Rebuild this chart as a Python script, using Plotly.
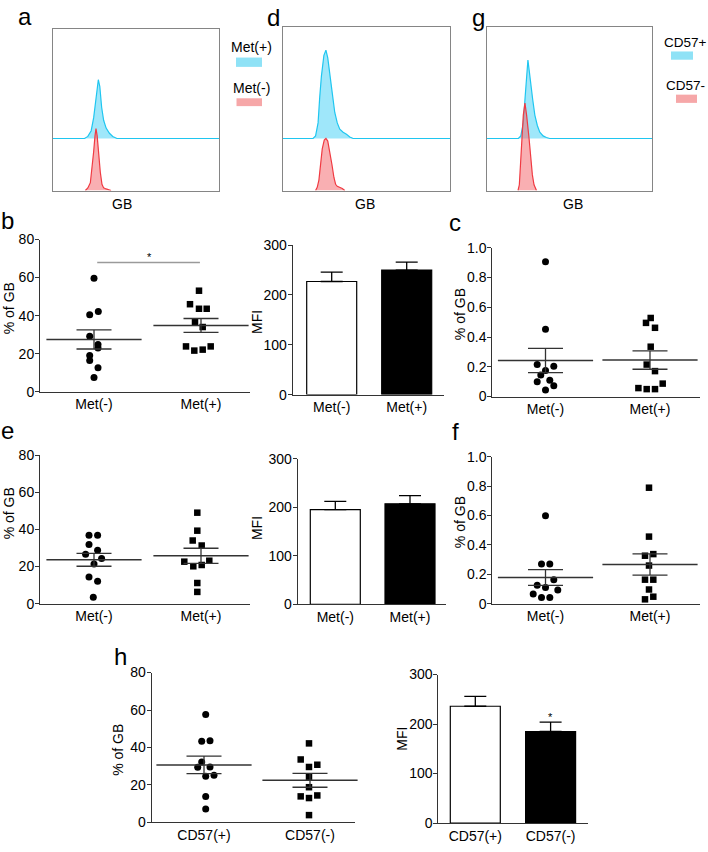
import numpy as np
import plotly.graph_objects as go

W, H = 708, 852

# ---------------- DATA ----------------
# Flow histograms: x = position in % of plot width, h = relative height
hist_a_pos_x = [19, 21, 23, 24.5, 25.5, 26.5, 27.3, 28.2, 29.3, 30.5, 32, 34, 36, 38.5]
hist_a_pos_h = [0, 0.04, 0.15, 0.4, 0.7, 1.0, 1.13, 1.0, 0.6, 0.35, 0.2, 0.1, 0.04, 0]
hist_a_neg_x = [19.5, 21, 22.5, 23.5, 24.5, 25.3, 25.9, 26.6, 27.5, 28.5, 29.5, 30.5, 32, 34, 35]
hist_a_neg_h = [0, 0.05, 0.15, 0.4, 0.75, 1.05, 1.19, 1.05, 0.7, 0.35, 0.12, 0.05, 0.03, 0.01, 0]

hist_d_pos_x = [18, 19.5, 21, 22, 23, 24.5, 25.7, 26.8, 28, 29.6, 31, 32.5, 34, 36, 38, 40, 42]
hist_d_pos_h = [0, 0.05, 0.3, 0.8, 1.2, 1.6, 1.70, 1.55, 1.2, 0.85, 0.5, 0.3, 0.18, 0.12, 0.08, 0.03, 0]
hist_d_neg_x = [19.5, 20.5, 21.5, 22.5, 23.5, 24.7, 25.7, 26.8, 28, 29.3, 30.5, 31.5, 32.5, 34, 35.5, 37]
hist_d_neg_h = [0, 0.06, 0.2, 0.5, 0.8, 0.97, 1.0, 0.95, 0.75, 0.5, 0.25, 0.12, 0.08, 0.06, 0.04, 0]

hist_g_pos_x = [19, 20.5, 22, 23, 24, 24.8, 25.6, 26.7, 27.7, 29, 30.5, 32, 34, 36, 38]
hist_g_pos_h = [0, 0.05, 0.3, 0.75, 1.25, 1.51, 1.3, 0.95, 0.75, 0.45, 0.25, 0.12, 0.05, 0.02, 0]
hist_g_neg_x = [18.8, 19.6, 20.3, 21, 22, 23, 24, 25.5, 26.5, 27.5, 28.5, 30]
hist_g_neg_h = [0, 0.11, 0.5, 1.0, 1.45, 1.68, 1.45, 1.0, 0.6, 0.3, 0.11, 0]

met_labels = ["Met(-)", "Met(+)"]
cd57_labels = ["CD57(+)", "CD57(-)"]

b_met_neg = [59.6, 40.5, 42.2, 29.1, 24.8, 22.9, 19.0, 16.4, 12.6, 7.4]
b_met_pos = [53.1, 46.0, 43.6, 43.6, 36.7, 34.0, 23.8, 21.6, 22.1, 23.8]
b_mfi = [227, 250]
b_mfi_sem = [19, 16]
b_sig_y = 68

c_met_neg = [0.905, 0.452, 0.215, 0.204, 0.175, 0.145, 0.100, 0.110, 0.072, 0.044]
c_met_pos = [0.528, 0.495, 0.462, 0.335, 0.215, 0.171, 0.087, 0.057, 0.050, 0.050]

e_met_neg = [36.8, 36.8, 31.9, 28.7, 26.6, 24.3, 21.3, 14.3, 12.0, 3.4]
e_met_pos = [49.0, 39.3, 34.0, 31.3, 22.6, 23.1, 20.1, 20.8, 11.1, 6.3]
e_mfi = [195, 207]
e_mfi_sem = [17, 17]

f_met_neg = [0.598, 0.27, 0.27, 0.125, 0.163, 0.109, 0.092, 0.065, 0.042, 0.042]
f_met_pos = [0.789, 0.456, 0.326, 0.337, 0.259, 0.163, 0.163, 0.096, 0.047, 0.029]

h_cd57_pos = [57.6, 43.3, 43.6, 32.3, 29.4, 29.6, 24.7, 25.2, 13.9, 7.2]
h_cd57_neg = [42.2, 33.6, 29.6, 30.8, 24.4, 18.8, 13.9, 13.0, 14.4, 3.9]
h_mfi = [236, 185]
h_mfi_sem = [20, 19]

pct_ticks = [0, 20, 40, 60, 80]
frac_ticks = [0, 0.2, 0.4, 0.6, 0.8, 1.0]
frac_ticktext = ["0", "0.2", "0.4", "0.6", "0.8", "1.0"]
mfi_ticks = [0, 100, 200, 300]

# ---------------- LAYOUT HELPERS (pixel geometry) ----------------
# horizontal jitter of dots, in pixels
b_neg_jit = [0, -4.3, 4.3, -4.3, 4, 4, -4.3, -4.3, 4, 0]
b_pos_jit = [-2, -11, -2, 5.7, -6, 1.7, -15, -6.7, 1.7, 9.7]
c_neg_jit = [0, 0, -8.3, 8.3, 0, -4.7, -8.3, 4.3, 8.3, 0]
c_pos_jit = [0.7, -4, 5, 0.7, -3.3, 5, 12.7, -11.6, -3.3, 5]
e_neg_jit = [-5, 3.6, -5, 3.6, -8.4, 7.6, 0, -5, 3.6, -0.7]
e_pos_jit = [-3.7, -3.7, -8.3, 0.7, -16.7, 8.3, -7.7, 0.7, -3.7, -3.7]
f_neg_jit = [0, -4, 4.3, -8.3, 8.3, 0, 12.3, -12.3, -4, 4.3]
f_pos_jit = [-1, -1, -5, 3.3, -1, -5, 3.3, -1, 3.3, -5]
h_pos_jit = [1.7, -2.3, 6, -2.3, -6.3, 6, 1.7, 10, 1.7, 1.7]
h_neg_jit = [-1, -9.3, -1, 7.3, -1, -1, -9.3, -1, 7.3, -1]

FONT = "Liberation Sans, Arial, Helvetica, sans-serif"
AX = "#333333"
CY_LINE = "#1fc6f0"
CY_FILL = "rgba(80,212,245,0.55)"
RD_LINE = "#f03a42"
RD_FILL = "rgba(244,110,115,0.55)"

fig = go.Figure()
layout = dict(width=W, height=H, margin=dict(l=0, r=0, t=0, b=0, pad=0), autosize=False,
              paper_bgcolor="white", plot_bgcolor="rgba(0,0,0,0)",
              showlegend=False, font=dict(family=FONT, size=14, color="black"))
annotations = []
shapes = []


def fx(px):
    return px / W


def fy(py):
    return 1 - py / H


def ids(n):
    s = "" if n == 1 else str(n)
    return "x" + s, "y" + s, "xaxis" + s, "yaxis" + s


def mean_sem(v):
    a = np.asarray(v, float)
    return a.mean(), a.std(ddof=1) / np.sqrt(len(a))


def hist_panel(n, x0, x1, ytop, ybot, ybase, pos_x, pos_h, neg_x, neg_h):
    xa, ya, xk, yk = ids(n)
    yr = (ybot - ytop) / (ybot - ybase)
    layout[xk] = dict(domain=[fx(x0), fx(x1)], range=[0, 100], anchor=ya,
                      showline=True, mirror=True, linecolor="#858585", linewidth=1,
                      showticklabels=False, ticks="", showgrid=False, zeroline=False)
    layout[yk] = dict(domain=[fy(ybot), fy(ytop)], range=[0, yr], anchor=xa,
                      showline=True, mirror=True, linecolor="#858585", linewidth=1,
                      showticklabels=False, ticks="", showgrid=False, zeroline=False)
    fig.add_trace(go.Scatter(x=[0] + list(pos_x) + [100], y=[1] + [1 + h for h in pos_h] + [1],
                             mode="lines", fill="toself", fillcolor=CY_FILL,
                             line=dict(color=CY_LINE, width=1.2), xaxis=xa, yaxis=ya))
    fig.add_trace(go.Scatter(x=list(neg_x), y=list(neg_h),
                             mode="lines", fill="toself", fillcolor=RD_FILL,
                             line=dict(color=RD_LINE, width=1.2), xaxis=xa, yaxis=ya))


def base_axes(n, x0, x1, ytop, ybot, c0, u, labels, yrange, ytv, ytt):
    xa, ya, xk, yk = ids(n)
    layout[xk] = dict(domain=[fx(x0), fx(x1)], range=[(x0 - c0) / u, (x1 - c0) / u], anchor=ya,
                      showline=True, linecolor=AX, linewidth=1, ticks="",
                      tickvals=[0, 1], ticktext=labels, tickfont=dict(size=14),
                      showgrid=False, zeroline=False)
    layout[yk] = dict(domain=[fy(ybot), fy(ytop)], range=yrange, anchor=xa,
                      showline=True, linecolor=AX, linewidth=1, ticks="outside",
                      ticklen=4, tickwidth=1, tickcolor=AX, tickvals=ytv, ticktext=ytt,
                      ticklabelstandoff=-2,
                      tickfont=dict(size=14), showgrid=False, zeroline=False)
    return xa, ya


def dot_panel(n, x0, x1, ytop, ybot, c0, u, labels, groups, yrange, ytv, ytt):
    xa, ya = base_axes(n, x0, x1, ytop, ybot, c0, u, labels, yrange, ytv, ytt)
    for k, (vals, jit, sym, sz) in enumerate(groups):
        fig.add_trace(go.Scatter(x=[k + j / u for j in jit], y=vals, mode="markers",
                                 marker=dict(symbol=sym, size=sz, color="black"),
                                 xaxis=xa, yaxis=ya, cliponaxis=False))
        m, s = mean_sem(vals)
        fig.add_trace(go.Scatter(x=[k], y=[m], mode="markers",
                                 marker=dict(symbol="line-ew", size=68, color=AX,
                                             line=dict(width=1.5, color=AX)),
                                 error_y=dict(type="data", array=[s], width=17.5,
                                              thickness=1.3, color=AX),
                                 xaxis=xa, yaxis=ya, cliponaxis=False))
    return xa, ya


def bar_panel(n, x0, x1, ytop, ybot, c0, u, labels, vals, sems):
    xa, ya = base_axes(n, x0, x1, ytop, ybot, c0, u, labels, [0, 300], mfi_ticks,
                       [str(t) for t in mfi_ticks])
    fig.add_trace(go.Bar(x=[0, 1], y=vals, width=50 / u,
                         marker=dict(color=["white", "black"], line=dict(color="black", width=1.2)),
                         error_y=dict(type="data", symmetric=False, array=sems, arrayminus=[0, 0],
                                      width=11, thickness=1.3, color="black"),
                         xaxis=xa, yaxis=ya, cliponaxis=False))
    return xa, ya


# histograms
hist_panel(1, 53, 219, 21, 186, 133, hist_a_pos_x, hist_a_pos_h, hist_a_neg_x, hist_a_neg_h)
hist_panel(2, 283, 450, 19, 186, 133, hist_d_pos_x, hist_d_pos_h, hist_d_neg_x, hist_d_neg_h)
hist_panel(3, 487, 652, 19, 186, 133, hist_g_pos_x, hist_g_pos_h, hist_g_neg_x, hist_g_neg_h)

pct_tt = [str(t) for t in pct_ticks]
xb, yb = dot_panel(4, 40, 250, 236, 391, 94, 107, met_labels,
                   [(b_met_neg, b_neg_jit, "circle", 7), (b_met_pos, b_pos_jit, "square", 6.5)],
                   [0, 80], pct_ticks, pct_tt)
bar_panel(5, 292.7, 444, 241.7, 394, 331.7, 75, met_labels, b_mfi, b_mfi_sem)
dot_panel(6, 492.3, 700, 244.3, 396, 545.5, 104.5, met_labels,
          [(c_met_neg, c_neg_jit, "circle", 7), (c_met_pos, c_pos_jit, "square", 6.5)],
          [0, 1], frac_ticks, frac_ticktext)
dot_panel(7, 40, 250, 455.7, 607, 94, 107, met_labels,
          [(e_met_neg, e_neg_jit, "circle", 7), (e_met_pos, e_pos_jit, "square", 6.5)],
          [0, 80], pct_ticks, pct_tt)
bar_panel(8, 297.7, 446, 459.3, 607.7, 335.3, 74.7, met_labels, e_mfi, e_mfi_sem)
dot_panel(9, 492.3, 700, 457.3, 607, 545.5, 104.5, met_labels,
          [(f_met_neg, f_neg_jit, "circle", 7), (f_met_pos, f_pos_jit, "square", 6.5)],
          [0, 1], frac_ticks, frac_ticktext)
dot_panel(10, 151.7, 355, 677.3, 830, 204, 106, cd57_labels,
          [(h_cd57_pos, h_pos_jit, "circle", 7), (h_cd57_neg, h_neg_jit, "square", 6.5)],
          [0, 80], pct_ticks, pct_tt)
xhm, yhm = bar_panel(11, 438.3, 587.7, 679.3, 830.7, 475.3, 75.3, cd57_labels, h_mfi, h_mfi_sem)

# significance in b
shapes.append(dict(type="line", xref=xb, yref=yb, x0=0.03, x1=0.99, y0=b_sig_y, y1=b_sig_y,
                   line=dict(color="#9a9a9a", width=1.5)))
annotations.append(dict(xref=xb, yref=yb, x=0.52, y=b_sig_y, text="*", showarrow=False,
                        yanchor="bottom", yshift=-3, font=dict(size=11)))
# significance in h MFI
annotations.append(dict(xref=xhm, yref=yhm, x=1, y=h_mfi[1] + h_mfi_sem[1], text="*",
                        showarrow=False, yanchor="bottom", yshift=-3, font=dict(size=11)))


def txt(px, py, text, size=14, angle=0):
    annotations.append(dict(xref="paper", yref="paper", x=fx(px), y=fy(py), text=text,
                            showarrow=False, xanchor="center", yanchor="middle",
                            textangle=angle, font=dict(size=size, color="black")))


# panel letters
for lx, ly, lt in [(25, 9, "a"), (273, 10, "d"), (478, 10, "g"), (7, 217, "b"),
                   (455, 219, "c"), (7, 431, "e"), (455, 432, "f"), (120, 661, "h")]:
    txt(lx, ly, lt, size=24)

# GB labels
txt(122, 200, "GB")
txt(365, 200, "GB")
txt(573, 200, "GB")

# legends
txt(251, 40, "Met(+)")
txt(251, 82, "Met(-)")
txt(685, 35, "CD57+", size=13.5)
txt(685, 79, "CD57-", size=13.5)
for sx0, sx1, sy0, sy1, col in [(236, 262, 50.5, 60, "#8fe2f6"), (236.5, 262, 92, 100, "#f6a7a8"),
                                (671, 693, 44.3, 52.7, "#8fe2f6"), (676, 697, 88.3, 96.7, "#f6a7a8")]:
    shapes.append(dict(type="rect", xref="paper", yref="paper", x0=fx(sx0), x1=fx(sx1),
                       y0=fy(sy1), y1=fy(sy0), line=dict(width=0), fillcolor=col))

# y titles
txt(9, 306, "% of GB", angle=-90)
txt(257, 320, "MFI", angle=-90)
txt(460, 312, "% of GB", angle=-90)
txt(9, 515, "% of GB", angle=-90)
txt(257, 530, "MFI", angle=-90)
txt(460, 524, "% of GB", angle=-90)
txt(118, 756, "% of GB", angle=-90)
txt(401.7, 745, "MFI", angle=-90)

layout["annotations"] = annotations
layout["shapes"] = shapes
fig.update_layout(**layout)
fig.write_html("out.html",
               config={"displayModeBar": False, "staticPlot": True},
               post_script="document.body.style.margin='0px';document.body.style.overflow='hidden';")
